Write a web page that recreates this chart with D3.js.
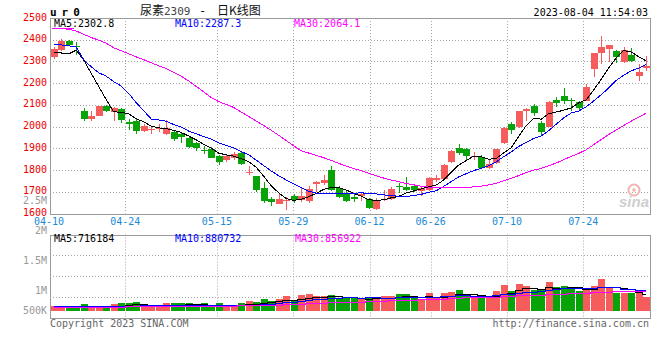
<!DOCTYPE html>
<html><head><meta charset="utf-8">
<script src="https://cdn.jsdelivr.net/npm/d3@7/dist/d3.min.js"></script>
<style>body{margin:0;background:#fff}svg{display:block}</style>
</head><body><svg id="c" width="660" height="360"></svg>
<script>
const dates = ["04-10","04-11","04-12","04-13","04-14","04-17","04-18","04-19","04-20","04-21","04-24","04-25","04-26","04-27","04-28","05-04","05-05","05-08","05-09","05-10","05-11","05-12","05-15","05-16","05-17","05-18","05-19","05-22","05-23","05-24","05-25","05-26","05-29","05-30","05-31","06-01","06-02","06-05","06-06","06-07","06-08","06-09","06-12","06-13","06-14","06-15","06-16","06-19","06-20","06-21","06-26","06-27","06-28","06-29","06-30","07-03","07-04","07-05","07-06","07-07","07-10","07-11","07-12","07-13","07-14","07-17","07-18","07-19","07-20","07-21","07-24","07-25","07-26","07-27","07-28","07-31","08-01","08-02","08-03","08-04"];
const open  = [2322,2354,2395,2373,2074,2034,2051,2097,2065,2079, 2023,2028,1979,1985,1987,1964,1975,1964,1947,1924, 1894,1895,1863,1845,1857,1878,1787,1771,1719,1666, 1646,1658,1679,1661,1656,1736,1740,1802,1718,1695, 1674,1682,1666,1620,1665,1669,1728,1720,1727,1704, 1707,1755,1761,1837,1901,1898,1864,1860,1810,1834, 1926,2013,1998,2071,2097,2016,1998,2124,2143,2124, 2112,2120,2266,2337,2357,2350,2299,2331,2235,2270];
const high  = [2365,2405,2397,2388,2087,2074,2097,2100,2090,2084, 2036,2037,2013,2005,2013,2031,1985,1973,1955,1929, 1909,1906,1869,1872,1881,1881,1817,1774,1744,1676, 1695,1676,1692,1722,1725,1750,1779,1817,1728,1705, 1692,1699,1671,1671,1710,1722,1741,1768,1734,1722, 1768,1776,1830,1894,1921,1901,1883,1868,1845,1898, 1998,2019,2074,2085,2105,2028,2120,2135,2176,2132, 2120,2197,2340,2418,2378,2352,2368,2362,2289,2327];
const low   = [2311,2350,2369,2331,2028,2025,2050,2068,2025,2016, 1986,1967,1975,1968,1975,1962,1936,1924,1903,1890, 1875,1854,1822,1839,1848,1825,1776,1699,1649,1635, 1643,1615,1649,1653,1649,1698,1730,1702,1671,1652, 1653,1658,1623,1615,1658,1661,1696,1704,1699,1680, 1704,1745,1757,1832,1868,1848,1845,1806,1806,1830, 1918,1967,1995,2028,2047,1959,1996,2090,2102,2070, 2074,2117,2227,2289,2296,2291,2293,2296,2212,2258];
const close = [2357,2395,2376,2369,2033,2051,2095,2071,2087,2031, 2012,1979,2001,1988,1992,1992,1941,1952,1906,1903, 1888,1857,1837,1863,1875,1830,1790,1707,1656,1653, 1669,1661,1664,1679,1715,1745,1753,1710,1676,1656, 1669,1688,1626,1664,1668,1715,1721,1707,1708,1716, 1763,1763,1822,1890,1878,1864,1867,1810,1830,1895, 1995,1986,2070,2079,2062,1975,2112,2108,2120,2118, 2087,2184,2337,2365,2377,2319,2353,2304,2253,2281];
const volume = [221000,221000,138000,138000,277000,221000,221000,221000,277000,318000, 318000,360000,221000,221000,221000,318000,318000,318000,318000,221000, 318000,221000,318000,221000,221000,318000,415000,360000,484000,415000, 484000,622000,429000,650000,692000,622000,622000,650000,553000,553000, 526000,484000,567000,595000,622000,622000,692000,692000,595000,456000, 733000,526000,733000,775000,858000,622000,526000,595000,595000,816000, 1065000,816000,1107000,1024000,858000,858000,1190000,968000,1024000,941000, 816000,899000,1024000,1314000,954000,761000,761000,761000,816000,567000];
const ma5Lead  = [2339,2339,2335,2352];
const ma10Lead = [2379,2376,2372,2366,2308,2275,2248,2232,2207];
const ma30Lead = [2451,2450,2449,2440,2425,2410,2398,2384,2363,2349,2335,2321,2308,2294,2280,2267,2250,2232,2210,2185,2160,2134,2115,2102,2088,2067,2046,2026,2005];
const vma5Lead  = [215000,215000,215000,215000];
const vma10Lead = [215000,215000,215000,215000,215000,215000,215000,215000,218000];
const vma30Lead = [200000,200000,202000,202000,204000,204000,205000,206000,208000,212000,214000,216000,218000,220000,222000,224000,226000,228000,229000,230000,232000,240000,244000,248000,252000,256000,260000,265000,270000];
const tickDates = ["04-10","04-24","05-15","05-29","06-12","06-26","07-10","07-24"];
const priceTicks = [2500,2400,2300,2200,2100,2000,1900,1800,1700,1600];
const volGridTicks = [500000,1000000,1500000];
const volLabelTicks = [2500000,2000000,1500000,1000000,500000];
const volLabelText = ["2.5M","2M","1.5M","1M","500K"];
const priceMaText = ["MA5:2302.8","MA10:2287.3","MA30:2064.1"];
const volMaText = ["MA5:716184","MA10:880732","MA30:856922"];
const titleParts = ["尿素", "2309", "-", "日K线图"];
const maColors = ["#000000","#0000ff","#ff00ff"];

const RED = "#f65c5c", GREEN = "#08a308";
const MONO = "'DejaVu Sans Mono', monospace";
const CJK = "'Noto Sans CJK SC', sans-serif";
const svg = d3.select("#c");
const L = 50, R = 650;

const x = d3.scaleBand().domain(d3.range(dates.length)).range([L, R]).paddingInner(0.2).paddingOuter(0.1);
const cx = i => x(i) + x.bandwidth() / 2;
const xGrid = d3.scaleLinear().domain([0, dates.length - 1]).range([49, 652]);
const y = d3.scaleLinear().domain([1600, 2500]).range([213.5, 18]);
const yVol = d3.scaleLinear().domain([0, 1000000]).range([311.2, 286.7]);
const yVolGrid = d3.scaleLinear().domain([0, 2000000]).range([317.4, 234.5]);
const yVolLabel = d3.scaleLinear().domain([0, 2500000]).range([354, 204]);

function rolling(arr, n, lead) {
  return arr.map((_, i) => i < n - 1 ? lead[i] : d3.mean(arr.slice(i - n + 1, i + 1)));
}
const priceMa = [rolling(close, 5, ma5Lead), rolling(close, 10, ma10Lead), rolling(close, 30, ma30Lead)];
const volMa = [rolling(volume, 5, vma5Lead), rolling(volume, 10, vma10Lead), rolling(volume, 30, vma30Lead)];

const px = v => Math.round(v) + 0.5;
const tickIdx = tickDates.map(d => dates.indexOf(d));

// ---------- price panel grid ----------
const gP = svg.append("g");
gP.selectAll(".hg").data(priceTicks.slice(1, -1)).join("line")
  .attr("x1", L).attr("x2", R).attr("y1", d => px(y(d))).attr("y2", d => px(y(d)))
  .attr("stroke", "#a8a8a8").attr("stroke-dasharray", "1,2");
gP.selectAll(".vg").data(tickIdx.slice(1)).join("line")
  .attr("x1", d => px(xGrid(d))).attr("x2", d => px(xGrid(d)))
  .attr("y1", y(2500)).attr("y2", y(1600))
  .attr("stroke", "#a8a8a8").attr("stroke-dasharray", "1,2");
gP.append("rect").attr("x", L + 0.5).attr("y", px(y(2500))).attr("width", R - L).attr("height", Math.round(y(1600)) - Math.round(y(2500)))
  .attr("fill", "none").attr("stroke", "#9a9a9a");

// price labels
svg.append("g").selectAll("text").data(priceTicks).join("text")
  .attr("x", 47).attr("y", d => Math.max(18.5, y(d) + 2.6))
  .attr("text-anchor", "end").attr("font-family", MONO).attr("font-size", 10).attr("fill", "#ee0000")
  .text(d => d);

// date labels
svg.append("g").selectAll("text").data(tickIdx).join("text")
  .attr("x", d => xGrid(d)).attr("y", 225.3)
  .attr("text-anchor", "middle").attr("font-family", MONO).attr("font-size", 10).attr("fill", "#1a8ad6")
  .text(d => dates[d]);

// watermark
const wm = svg.append("g");
wm.append("circle").attr("cx", 634).attr("cy", 190).attr("r", 5.5).attr("fill", "none").attr("stroke", "#f2b3b3").attr("stroke-width", 2);
wm.append("circle").attr("cx", 634).attr("cy", 190).attr("r", 1.8).attr("fill", "#f2b3b3");
wm.append("text").attr("x", 619).attr("y", 207).attr("font-family", "'Liberation Sans', Arial, sans-serif")
  .attr("font-size", 15).attr("font-weight", "bold").attr("font-style", "italic").attr("fill", "#cfcfcf").text("sina");

// ---------- candles ----------
const gC = svg.append("g");
d3.range(dates.length).forEach(i => {
  const up = close[i] >= open[i];
  const col = up ? RED : GREEN;
  const bx = Math.round(x(i));
  gC.append("rect").attr("x", bx + 3).attr("width", 1)
    .attr("y", Math.round(y(high[i]))).attr("height", Math.max(1, Math.round(y(low[i])) - Math.round(y(high[i]))))
    .attr("fill", col);
  const top = Math.round(y(Math.max(open[i], close[i])));
  const bot = Math.round(y(Math.min(open[i], close[i])));
  gC.append("rect").attr("x", bx).attr("width", 7)
    .attr("y", top).attr("height", Math.max(1, bot - top)).attr("fill", col);
});

// price MA lines
const lineP = d3.line().x((d, i) => cx(i)).y(d => y(d));
svg.append("g").selectAll("path").data(priceMa).join("path")
  .attr("d", lineP).attr("fill", "none").attr("stroke", (d, i) => maColors[i]).attr("stroke-width", 1)
  .attr("shape-rendering", "crispEdges");

// price MA legend
const legX = [54, 175, 294];
svg.append("g").selectAll("text").data(priceMaText).join("text")
  .attr("x", (d, i) => legX[i]).attr("y", 26.6)
  .attr("font-family", MONO).attr("font-size", 10).attr("fill", (d, i) => maColors[i]).text(d => d);
svg.append("line").attr("x1", 52).attr("x2", 74).attr("y1", 28.5).attr("y2", 28.5).attr("stroke", "#ff00ff");

// header
svg.append("text").attr("x", 50).attr("y", 16).attr("font-family", MONO).attr("font-size", 11)
  .attr("font-weight", "bold").attr("letter-spacing", 5).attr("fill", "#000").text("ur0");
const titleX = [140, 164, 199, 217];
const titleFont = [CJK, MONO, MONO, CJK];
const titleCol = ["#111", "#444", "#111", "#111"];
svg.append("g").selectAll("text").data(titleParts).join("text")
  .attr("x", (d, i) => titleX[i]).attr("y", 14.5)
  .attr("font-family", (d, i) => titleFont[i]).attr("font-size", (d, i) => i === 1 ? 11 : 12)
  .attr("fill", (d, i) => titleCol[i]).text(d => d);
svg.append("text").attr("x", 648).attr("y", 15.7).attr("text-anchor", "end").attr("font-family", MONO)
  .attr("font-size", 10).attr("fill", "#000").text("2023-08-04 11:54:03");

// ---------- volume panel ----------
const gV = svg.append("g");
gV.selectAll(".hg").data(volGridTicks).join("line")
  .attr("x1", L).attr("x2", R).attr("y1", d => px(yVolGrid(d))).attr("y2", d => px(yVolGrid(d)))
  .attr("stroke", "#a8a8a8").attr("stroke-dasharray", "1,2");
gV.selectAll(".vg").data(tickIdx.slice(1)).join("line")
  .attr("x1", d => px(xGrid(d))).attr("x2", d => px(xGrid(d)))
  .attr("y1", yVolGrid(2000000)).attr("y2", yVolGrid(0) + 1)
  .attr("stroke", "#a8a8a8").attr("stroke-dasharray", "1,2");
gV.append("rect").attr("x", L + 0.5).attr("y", px(yVolGrid(2000000))).attr("width", R - L)
  .attr("height", Math.round(yVolGrid(0)) + 1 - Math.round(yVolGrid(2000000)))
  .attr("fill", "none").attr("stroke", "#9a9a9a");

gV.selectAll(".bar").data(volume).join("rect")
  .attr("x", (d, i) => Math.round(x(i))).attr("width", 7)
  .attr("y", d => Math.round(yVol(d))).attr("height", d => Math.round(yVol(0)) - Math.round(yVol(d)))
  .attr("fill", (d, i) => close[i] >= open[i] ? RED : GREEN);

const lineV = d3.line().x((d, i) => cx(i)).y(d => yVol(d)).curve(d3.curveStep);
svg.append("g").attr("transform", "translate(0,1)").selectAll("path").data(volMa).join("path")
  .attr("d", lineV).attr("fill", "none").attr("stroke", (d, i) => maColors[i]).attr("stroke-width", 1)
  .attr("shape-rendering", "crispEdges");

svg.append("g").selectAll("text").data(volMaText).join("text")
  .attr("x", (d, i) => legX[i] + (i === 2 ? 1 : 0)).attr("y", 241.7)
  .attr("font-family", MONO).attr("font-size", 10).attr("fill", (d, i) => maColors[i]).text(d => d);

svg.append("g").selectAll("text").data(volLabelTicks).join("text")
  .attr("x", 47).attr("y", d => Math.min(313.5, yVolLabel(d)))
  .attr("text-anchor", "end").attr("font-family", MONO).attr("font-size", 10).attr("fill", "#999")
  .text((d, i) => volLabelText[i]);

// footer
svg.append("text").attr("x", 50).attr("y", 327.3).attr("font-family", MONO).attr("font-size", 10)
  .attr("fill", "#666").text("Copyright 2023 SINA.COM");
svg.append("text").attr("x", 649).attr("y", 327.3).attr("text-anchor", "end").attr("font-family", MONO)
  .attr("font-size", 10).attr("fill", "#666").text("http://finance.sina.com.cn");
</script></body></html>
